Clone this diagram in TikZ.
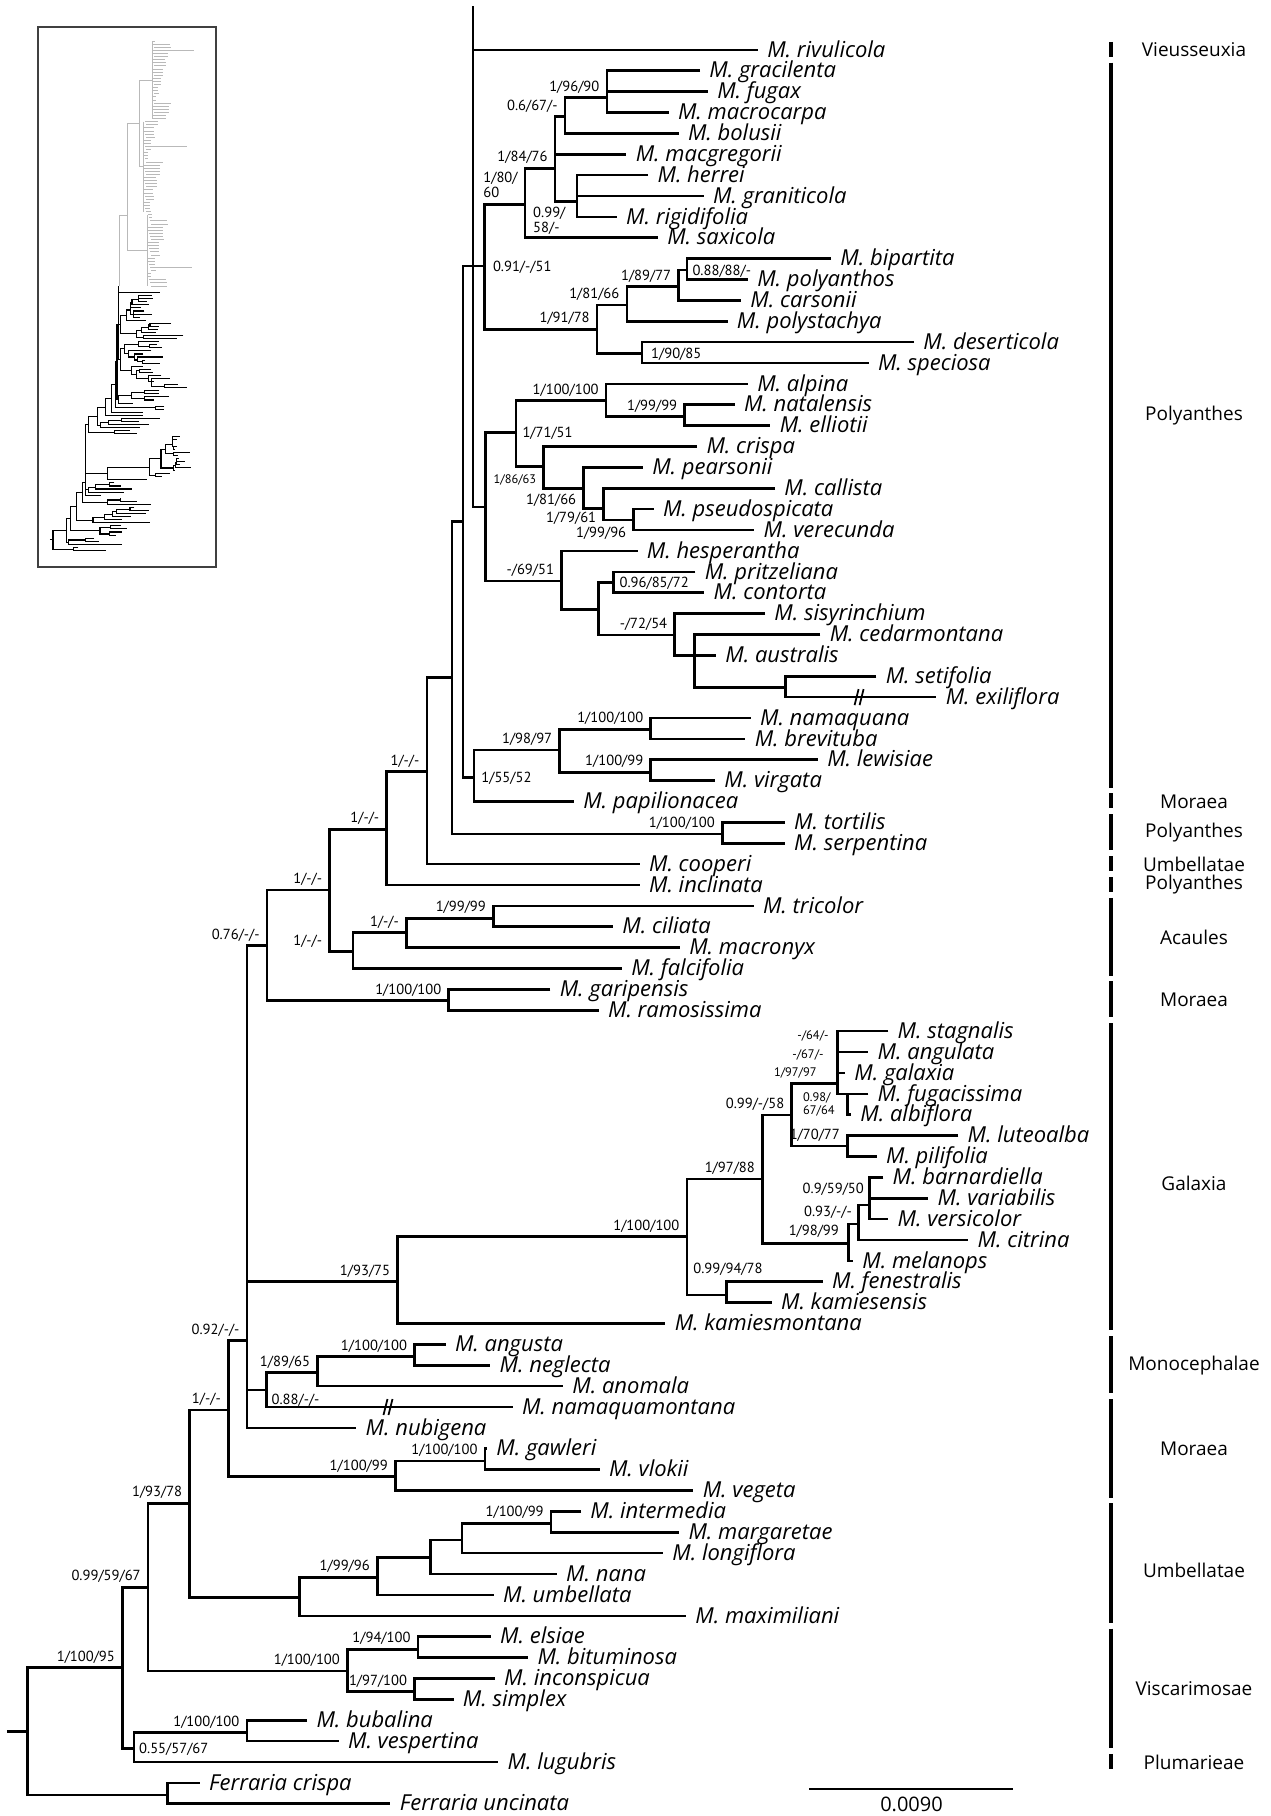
\documentclass[tikz,border=0pt]{standalone}
\usepackage{fontspec}
\setmainfont{PT Sans}
\newfontfamily\taxfont{Open Sans}
\usetikzlibrary{positioning}

% row position of a taxon
\newcommand{\ry}[1]{49.8+20.88*#1}
\newcommand{\showname}[1]{#1}
\newcommand{\leaf}[4]{\node[taxon] (#1) at (#3,{\ry{#2}}) {\showname{#4}};}
\newcommand{\clade}[3]{\draw[br] (#2) -| (#1) |- (#3);}
\newcommand{\twig}[2]{\draw[br] (#1 |- #2) -- (#2);}
\newcommand{\brkmark}[1]{\draw[line width=0.9pt] ([shift={(-5,8)}]#1) -- ([shift={(-1,-8)}]#1) ([shift={(0,8)}]#1) -- ([shift={(4,-8)}]#1);}

\newcommand{\drawtree}{%
  % Taxa
  \leaf{rivulicola}{0}{757.9}{M. rivulicola}
  \leaf{gracilenta}{1}{700}{M. gracilenta}
  \leaf{fugax}{2}{707.9}{M. fugax}
  \leaf{macrocarpa}{3}{668.6}{M. macrocarpa}
  \leaf{bolusii}{4}{678.6}{M. bolusii}
  \leaf{macgregorii}{5}{626.4}{M. macgregorii}
  \leaf{herrei}{6}{648.2}{M. herrei}
  \leaf{graniticola}{7}{703.6}{M. graniticola}
  \leaf{rigidifolia}{8}{616.8}{M. rigidifolia}
  \leaf{saxicola}{9}{657.9}{M. saxicola}
  \leaf{bipartita}{10}{831}{M. bipartita}
  \leaf{polyanthos}{11}{747.9}{M. polyanthos}
  \leaf{carsonii}{12}{741}{M. carsonii}
  \leaf{polystachya}{13}{727.5}{M. polystachya}
  \leaf{deserticola}{14}{914}{M. deserticola}
  \leaf{speciosa}{15}{868.6}{M. speciosa}
  \leaf{alpina}{16}{747.9}{M. alpina}
  \leaf{natalensis}{17}{734.6}{M. natalensis}
  \leaf{elliotii}{18}{770.4}{M. elliotii}
  \leaf{crispa}{19}{697.1}{M. crispa}
  \leaf{pearsonii}{20}{642.9}{M. pearsonii}
  \leaf{callista}{21}{775}{M. callista}
  \leaf{pseudospicata}{22}{653.6}{M. pseudospicata}
  \leaf{verecunda}{23}{754.3}{M. verecunda}
  \leaf{hesperantha}{24}{637.5}{M. hesperantha}
  \leaf{pritzeliana}{25}{695.4}{M. pritzeliana}
  \leaf{contorta}{26}{704.3}{M. contorta}
  \leaf{sisyrinchium}{27}{765}{M. sisyrinchium}
  \leaf{cedarmontana}{28}{820.4}{M. cedarmontana}
  \leaf{australis}{29}{716}{M. australis}
  \leaf{setifolia}{30}{876.4}{M. setifolia}
  \leaf{exiliflora}{31}{936.4}{M. exiliflora}
  \leaf{namaquana}{32}{750.7}{M. namaquana}
  \leaf{brevituba}{33}{745.4}{M. brevituba}
  \leaf{lewisiae}{34}{817.9}{M. lewisiae}
  \leaf{virgata}{35}{715}{M. virgata}
  \leaf{papilionacea}{36}{573.9}{M. papilionacea}
  \leaf{tortilis}{37}{784.8}{M. tortilis}
  \leaf{serpentina}{38}{784.8}{M. serpentina}
  \leaf{cooperi}{39}{639.7}{M. cooperi}
  \leaf{inclinata}{40}{639.7}{M. inclinata}
  \leaf{tricolor}{41}{753.6}{M. tricolor}
  \leaf{ciliata}{42}{613}{M. ciliata}
  \leaf{macronyx}{43}{679.9}{M. macronyx}
  \leaf{falcifolia}{44}{621.9}{M. falcifolia}
  \leaf{garipensis}{45}{550.4}{M. garipensis}
  \leaf{ramosissima}{46}{598.7}{M. ramosissima}
  \leaf{stagnalis}{47}{888.3}{M. stagnalis}
  \leaf{angulata}{48}{868.3}{M. angulata}
  \leaf{galaxia}{49}{845}{M. galaxia}
  \leaf{fugacissima}{50}{868.3}{M. fugacissima}
  \leaf{albiflora}{51}{851}{M. albiflora}
  \leaf{luteoalba}{52}{958.3}{M. luteoalba}
  \leaf{pilifolia}{53}{876.7}{M. pilifolia}
  \leaf{barnardiella}{54}{883.3}{M. barnardiella}
  \leaf{variabilis}{55}{928.3}{M. variabilis}
  \leaf{versicolor}{56}{888.3}{M. versicolor}
  \leaf{citrina}{57}{968.3}{M. citrina}
  \leaf{melanops}{58}{853}{M. melanops}
  \leaf{fenestralis}{59}{822.7}{M. fenestralis}
  \leaf{kamiesensis}{60}{771.7}{M. kamiesensis}
  \leaf{kamiesmontana}{61}{665.4}{M. kamiesmontana}
  \leaf{angusta}{62}{445.6}{M. angusta}
  \leaf{neglecta}{63}{490.3}{M. neglecta}
  \leaf{anomala}{64}{563}{M. anomala}
  \leaf{namaquamontana}{65}{512.6}{M. namaquamontana}
  \leaf{nubigena}{66}{356.3}{M. nubigena}
  \leaf{gawleri}{67}{487}{M. gawleri}
  \leaf{vlokii}{68}{599.6}{M. vlokii}
  \leaf{vegeta}{69}{693.4}{M. vegeta}
  \leaf{intermedia}{70}{581}{M. intermedia}
  \leaf{margaretae}{71}{679.1}{M. margaretae}
  \leaf{longiflora}{72}{663}{M. longiflora}
  \leaf{nana}{73}{556.8}{M. nana}
  \leaf{umbellata}{74}{493.7}{M. umbellata}
  \leaf{maximiliani}{75}{686}{M. maximiliani}
  \leaf{elsiae}{76}{490.8}{M. elsiae}
  \leaf{bituminosa}{77}{528.1}{M. bituminosa}
  \leaf{inconspicua}{78}{494.8}{M. inconspicua}
  \leaf{simplex}{79}{453.5}{M. simplex}
  \leaf{bubalina}{80}{307.1}{M. bubalina}
  \leaf{vespertina}{81}{338.7}{M. vespertina}
  \leaf{lugubris}{82}{498.3}{M. lugubris}
  \leaf{fcrispa}{83}{199.8}{Ferraria crispa}
  \leaf{funcinata}{84}{390.4}{Ferraria uncinata}
  % Internal nodes
  \coordinate (topcut) at (473,6);
  \coordinate (top0) at (473,266);
  \coordinate (g96) at (606.8,97.7);
  \coordinate (g67) at (565,116.7);
  \coordinate (g84) at (555,168.3);
  \coordinate (g58) at (576.8,201.7);
  \coordinate (g80) at (525,204.3);
  \coordinate (p88) at (687.1,270);
  \coordinate (p89) at (678.6,286.7);
  \coordinate (p81) at (626.8,305);
  \coordinate (p90) at (641.8,353.3);
  \coordinate (p91) at (597.1,329.3);
  \coordinate (p051) at (484.6,266);
  \coordinate (a99) at (684.6,416.7);
  \coordinate (a100) at (606.1,400.7);
  \coordinate (c99) at (633.6,520);
  \coordinate (c79) at (603.6,508.3);
  \coordinate (c81) at (583.6,488.3);
  \coordinate (c86) at (543.6,466.7);
  \coordinate (a71) at (516.1,432.7);
  \coordinate (h96) at (613.2,582.7);
  \coordinate (h10) at (785.4,687.7);
  \coordinate (h11) at (694.6,655.3);
  \coordinate (h72) at (674.6,635);
  \coordinate (h12) at (598.2,609.3);
  \coordinate (h69) at (561.4,581);
  \coordinate (q0) at (485.7,507);
  \coordinate (n100a) at (650.7,729.3);
  \coordinate (n100b) at (650.7,772.3);
  \coordinate (n98) at (559.6,750);
  \coordinate (n55) at (474,777.3);
  \coordinate (r0) at (463,521.5);
  \coordinate (t100) at (722.3,834);
  \coordinate (s0) at (452,677.7);
  \coordinate (s1) at (426.8,771.7);
  \coordinate (s2) at (386.6,829.3);
  \coordinate (k99) at (493.3,918.3);
  \coordinate (k1) at (406.3,932.7);
  \coordinate (k2) at (353.1,951.7);
  \coordinate (s3) at (329.5,890);
  \coordinate (m100) at (448.7,1000.7);
  \coordinate (s4) at (267,945.7);
  \coordinate (x98) at (847.3,1094);
  \coordinate (x97) at (837.7,1083.3);
  \coordinate (x70) at (847.3,1146);
  \coordinate (x58) at (791.7,1115);
  \coordinate (y59) at (869.3,1205);
  \coordinate (y93) at (858.3,1224);
  \coordinate (y98) at (848.3,1243.3);
  \coordinate (x88) at (762.3,1179);
  \coordinate (f99) at (726.7,1295);
  \coordinate (x100) at (686.8,1236.7);
  \coordinate (x93) at (397.5,1281.7);
  \coordinate (o100) at (414.4,1356.7);
  \coordinate (o89) at (317.5,1372.7);
  \coordinate (o88) at (266.2,1390);
  \coordinate (s5) at (246.9,1340.7);
  \coordinate (w100) at (484.9,1461);
  \coordinate (w99) at (395.2,1476.7);
  \coordinate (s6) at (228.2,1410);
  \coordinate (u100) at (551.1,1523.3);
  \coordinate (u1) at (462.1,1540);
  \coordinate (u2) at (430.5,1557.7);
  \coordinate (u99) at (377.2,1577.3);
  \coordinate (u0) at (299.7,1597.3);
  \coordinate (s7) at (189.6,1503.3);
  \coordinate (v94) at (417.9,1649.3);
  \coordinate (v97) at (414.5,1691.7);
  \coordinate (v100) at (347.3,1671);
  \coordinate (s8) at (148.1,1587.3);
  \coordinate (b100) at (246.8,1732.7);
  \coordinate (b55) at (133.8,1748.3);
  \coordinate (s9) at (122.3,1667.7);
  \coordinate (fr) at (167.6,1795);
  \coordinate (root) at (27.6,1731.7);
  \coordinate (rootstem) at (6.9,1731.7);
  % Branches
  \clade{g96}{gracilenta.west}{macrocarpa.west} \twig{g96}{fugax.west}
  \clade{g67}{g96}{bolusii.west}
  \clade{g58}{herrei.west}{rigidifolia.west} \twig{g58}{graniticola.west}
  \clade{g84}{g67}{g58} \twig{g84}{macgregorii.west}
  \clade{g80}{g84}{saxicola.west}
  \clade{p88}{bipartita.west}{polyanthos.west}
  \clade{p89}{p88}{carsonii.west}
  \clade{p81}{p89}{polystachya.west}
  \clade{p90}{deserticola.west}{speciosa.west}
  \clade{p91}{p81}{p90}
  \clade{p051}{g80}{p91}
  \clade{a99}{natalensis.west}{elliotii.west}
  \clade{a100}{alpina.west}{a99}
  \clade{c99}{pseudospicata.west}{verecunda.west}
  \clade{c79}{callista.west}{c99}
  \clade{c81}{pearsonii.west}{c79}
  \clade{c86}{crispa.west}{c81}
  \clade{a71}{a100}{c86}
  \clade{h96}{pritzeliana.west}{contorta.west}
  \clade{h10}{setifolia.west}{exiliflora.west}
  \clade{h11}{cedarmontana.west}{h10} \twig{h11}{australis.west}
  \clade{h72}{sisyrinchium.west}{h11}
  \clade{h12}{h96}{h72}
  \clade{h69}{hesperantha.west}{h12}
  \clade{q0}{a71}{h69}
  \draw[br] (topcut) |- (q0);
  \twig{top0}{rivulicola.west}
  \draw[br] (top0) -- (p051);
  \clade{n100a}{namaquana.west}{brevituba.west}
  \clade{n100b}{lewisiae.west}{virgata.west}
  \clade{n98}{n100a}{n100b}
  \clade{n55}{n98}{papilionacea.west}
  \clade{r0}{top0}{n55}
  \clade{t100}{tortilis.west}{serpentina.west}
  \clade{s0}{r0}{t100}
  \clade{s1}{s0}{cooperi.west}
  \clade{s2}{s1}{inclinata.west}
  \clade{k99}{tricolor.west}{ciliata.west}
  \clade{k1}{k99}{macronyx.west}
  \clade{k2}{k1}{falcifolia.west}
  \clade{s3}{s2}{k2}
  \clade{m100}{garipensis.west}{ramosissima.west}
  \clade{s4}{s3}{m100}
  \clade{x98}{fugacissima.west}{albiflora.west}
  \clade{x97}{stagnalis.west}{x98} \twig{x97}{angulata.west} \twig{x97}{galaxia.west}
  \clade{x70}{luteoalba.west}{pilifolia.west}
  \clade{x58}{x97}{x70}
  \clade{y59}{barnardiella.west}{versicolor.west} \twig{y59}{variabilis.west}
  \clade{y93}{y59}{citrina.west}
  \clade{y98}{y93}{melanops.west}
  \clade{x88}{x58}{y98}
  \clade{f99}{fenestralis.west}{kamiesensis.west}
  \clade{x100}{x88}{f99}
  \clade{x93}{x100}{kamiesmontana.west}
  \clade{o100}{angusta.west}{neglecta.west}
  \clade{o89}{o100}{anomala.west}
  \clade{o88}{o89}{namaquamontana.west}
  \clade{s5}{s4}{nubigena.west} \twig{s5}{x93} \twig{s5}{o88}
  \clade{w100}{gawleri.west}{vlokii.west}
  \clade{w99}{w100}{vegeta.west}
  \clade{s6}{s5}{w99}
  \clade{u100}{intermedia.west}{margaretae.west}
  \clade{u1}{u100}{longiflora.west}
  \clade{u2}{u1}{nana.west}
  \clade{u99}{u2}{umbellata.west}
  \clade{u0}{u99}{maximiliani.west}
  \clade{s7}{s6}{u0}
  \clade{v94}{elsiae.west}{bituminosa.west}
  \clade{v97}{inconspicua.west}{simplex.west}
  \clade{v100}{v94}{v97}
  \clade{s8}{s7}{v100}
  \clade{b100}{bubalina.west}{vespertina.west}
  \clade{b55}{b100}{lugubris.west}
  \clade{s9}{s8}{b55}
  \clade{fr}{fcrispa.west}{funcinata.west}
  \clade{root}{s9}{fr}
  \draw[br] (rootstem) -- (root);
}

\begin{document}
\begin{tikzpicture}[
    x=0.5pt, y=-0.5pt,
    node distance=2.5pt and 3pt,
    br/.style={line width=1.3pt},
    taxon/.style={anchor=west, inner xsep=4.5pt, inner ysep=0pt, text height=8.2pt, text depth=1pt, font=\taxfont\fontsize{11}{13}\selectfont\itshape},
    sup/.style={inner sep=0.5pt, text height=5.2pt, text depth=0pt, font=\fontsize{7.3}{8}\selectfont},
    supml/.style={inner sep=0.5pt, align=left, font=\fontsize{7.3}{7.7}\selectfont},
    supsmall/.style={inner sep=0.5pt, text height=4.5pt, text depth=0pt, font=\fontsize{6.2}{7}\selectfont},
    supsmallml/.style={inner sep=0.5pt, align=left, font=\fontsize{6.2}{6.5}\selectfont},
    grp/.style={inner sep=0pt, font=\taxfont\fontsize{9.5}{11}\selectfont},
    cbar/.style={line width=2.4pt},
    thumbgrey/.style={line width=0.4pt, gray!55}
  ]
  \useasboundingbox (0,0) rectangle (1270,1816);

  % Inset: whole tree in miniature
  \draw[line width=0.8pt, black!75] (38,27) rectangle (216,567);
  \foreach \i in {0,...,79} {
    \pgfmathsetmacro{\gy}{41+3.1*\i}
    \pgfmathsetmacro{\gx}{\i<26 ? 152+mod(\i,3) : (\i<56 ? 143+mod(\i,4) : 147+mod(\i,5))}
    \pgfmathsetmacro{\gl}{(\i==3 || \i==34 || \i==73) ? 42 : 3+mod(\i*37,19)*0.8}
    \draw[thumbgrey] (\gx,\gy) -- ++(\gl,0);
  }
  \draw[thumbgrey] (152,41) -- (152,118.5);
  \draw[thumbgrey] (143,121.6) -- (143,211.5);
  \draw[thumbgrey] (147,214.6) -- (147,285.9);
  \draw[thumbgrey] (152,80) -| (139,166) -- (143,166);
  \draw[thumbgrey] (139,123) -| (127.3,250) -- (147,250);
  \draw[thumbgrey] (127.3,215) -| (119.3,286.3);
  \begin{scope}[shift={(48.97,285.25)}, scale=0.147,
      br/.style={line width=0.55pt},
      taxon/.style={anchor=west, inner sep=0pt, minimum size=0pt}]
    \renewcommand{\showname}[1]{}
    \drawtree
  \end{scope}

  % Main tree
  \drawtree
  \coordinate (brkA) at (859.6,{\ry{31}});
  \coordinate (brkB) at (388.5,{\ry{65}});
  \brkmark{brkA}
  \brkmark{brkB}

  % Support values
  \node[sup, above left=of g96] {1/96/90};
  \node[sup, above left=of g67] {0.6/67/-};
  \node[sup, above left=of g84] {1/84/76};
  \node[supml, above left=of g80] {1/80/\\60};
  \node[supml, below left=2pt and 5pt of g58] {0.99/\\58/-};
  \node[sup, right=3.5pt of p051] {0.91/-/51};
  \node[sup, above left=of p89] {1/89/77};
  \node[sup, right=2pt of p88] {0.88/88/-};
  \node[sup, above left=of p81] {1/81/66};
  \node[sup, above left=of p91] {1/91/78};
  \node[sup, right=4pt of p90] {1/90/85};
  \node[sup, above left=of a100] {1/100/100};
  \node[sup, above left=of a99] {1/99/99};
  \node[sup, right=2.5pt of a71] {1/71/51};
  \node[supsmall, below left=3pt and 3pt of c86] {1/86/63};
  \node[sup, below left=2pt and 3pt of c81] {1/81/66};
  \node[sup, below left=1pt and 3pt of c79] {1/79/61};
  \node[sup, below left=3pt and 3pt of c99] {1/99/96};
  \node[sup, above left=of h69] {-/69/51};
  \node[sup, right=2.5pt of h96] {0.96/85/72};
  \node[sup, above left=of h72] {-/72/54};
  \node[sup, above left=of n98] {1/98/97};
  \node[sup, above left=of n100a] {1/100/100};
  \node[sup, above left=of n100b] {1/100/99};
  \node[sup, right=3pt of n55] {1/55/52};
  \node[sup, above left=of t100] {1/100/100};
  \node[sup, above left=of s1] {1/-/-};
  \node[sup, above left=of s2] {1/-/-};
  \node[sup, above left=of s3] {1/-/-};
  \coordinate (k2l) at (s3 |- k2);
  \node[sup, above left=of k2l] {1/-/-};
  \node[sup, above left=of k1] {1/-/-};
  \node[sup, above left=of k99] {1/99/99};
  \node[sup, above left=of m100] {1/100/100};
  \node[sup, above left=of s4] {0.76/-/-};
  \node[supsmall, anchor=east] at (830,1035) {-/64/-};
  \node[supsmall, anchor=east] at (825,1054) {-/67/-};
  \node[supsmall, anchor=east] at (818,1072) {1/97/97};
  \node[supsmallml, anchor=east] at (836,1104.5) {0.98/\\67/64};
  \node[sup, above left=of x58] {0.99/-/58};
  \node[sup, above left=of x70] {1/70/77};
  \node[sup, above left=5pt and 2pt of y59] {0.9/59/50};
  \node[sup, above left=3pt and 2.5pt of y93] {0.93/-/-};
  \node[sup, above left=3pt and 4pt of y98] {1/98/99};
  \node[sup, above left=of x88] {1/97/88};
  \node[sup, above left=of x100] {1/100/100};
  \node[sup, anchor=west] at (692,1268) {0.99/94/78};
  \node[sup, above left=of x93] {1/93/75};
  \node[sup, above left=of o100] {1/100/100};
  \node[sup, above left=of o89] {1/89/65};
  \node[sup, right=2pt of o88, yshift=-4.5pt] {0.88/-/-};
  \node[sup, above left=of s5] {0.92/-/-};
  \node[sup, above left=of w100] {1/100/100};
  \node[sup, above left=of w99] {1/100/99};
  \node[sup, above left=of s6] {1/-/-};
  \node[sup, above left=of u100] {1/100/99};
  \node[sup, above left=of u99] {1/99/96};
  \node[sup, above left=of s7] {1/93/78};
  \node[sup, above left=of s8] {0.99/59/67};
  \node[sup, above left=of v94] {1/94/100};
  \node[sup, above left=of v97] {1/97/100};
  \node[sup, above left=of v100] {1/100/100};
  \node[sup, above left=of s9] {1/100/95};
  \node[sup, above left=of b100] {1/100/100};
  \node[sup, right=2pt of b55] {0.55/57/67};

  % Sections
  \foreach \ra/\rb/\gname/\dy [count=\k] in {0/0/Vieusseuxia/0, 1/35/Polyanthes/-10,
      36/36/Moraea/0, 37/38/Polyanthes/0, 39/39/Umbellatae/0, 40/40/Polyanthes/0,
      41/44/Acaules/0, 45/46/Moraea/0, 47/61/Galaxia/6, 62/64/Monocephalae/0,
      65/69/Moraea/0, 70/75/Umbellatae/7, 76/81/Viscarimosae/0, 82/82/Plumarieae/0} {
    \draw[cbar] (1111,{\ry{\ra}-8}) -- (1111,{\ry{\rb}+7});
    \node[grp] (grp\k) at (1194,{(\ry{\ra}+\ry{\rb})/2+\dy}) {\gname};
  }

  % Scale bar
  \coordinate (sbl) at (809.3,1789);
  \coordinate (sbr) at (1013.3,1789);
  \draw[line width=1.2pt] (sbl) -- (sbr);
  \node[font=\taxfont\fontsize{10}{12}\selectfont, inner sep=0pt] (sbtext) at (911.5,1804) {0.0090};
\end{tikzpicture}
\end{document}
